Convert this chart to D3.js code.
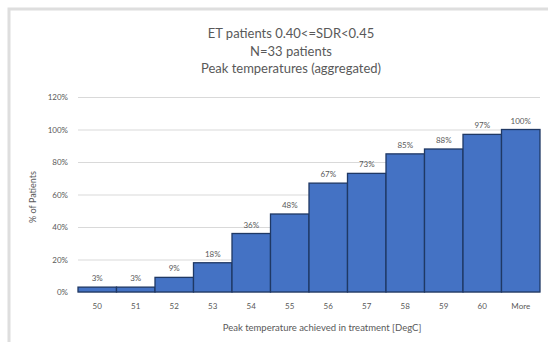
<!DOCTYPE html>
<html>
<head>
<meta charset="utf-8">
<script src="https://cdn.jsdelivr.net/npm/d3@7"></script>
<style>
  body { margin: 0; background: #fff; overflow: hidden; }
  svg { display: block; }
  text { font-family: Lato, "Open Sans", sans-serif; fill: #595959; }
</style>
</head>
<body>
<div class="graph-section"></div>
<script>
// data
var categories = ["50", "51", "52", "53", "54", "55", "56", "57", "58", "59", "60", "More"];
var percents = [3, 3, 9, 18, 36, 48, 67, 73, 85, 88, 97, 100];
var yTicks = [0, 20, 40, 60, 80, 100, 120];
var titleLines = ["ET patients 0.40<=SDR<0.45", "N=33 patients", "Peak temperatures (aggregated)"];

var screen = {width: 548, height: 342};
var margins = {top: 97, bottom: 50, left: 78, right: 8};

var graphWidth = screen.width - margins.left - margins.right;
var graphHeight = screen.height - margins.top - margins.bottom;

var svg = d3.select(".graph-section")
            .append("svg")
            .attr("width", screen.width)
            .attr("height", screen.height);

// outer chart frame (right and bottom run off the picture)
svg.append("rect")
   .attr("x", 9)
   .attr("y", 9)
   .attr("width", screen.width + 10)
   .attr("height", screen.height + 10)
   .attr("fill", "#fff")
   .attr("stroke", "#dedede")
   .attr("stroke-width", 3);

var xScale = d3.scaleBand()
              .domain(categories)
              .range([0, graphWidth])
              .padding(0);

var yScale = d3.scaleLinear()
              .domain([0, 120])
              .range([graphHeight, 0]);

var plotLand = svg.append("g")
                  .attr("transform", "translate(" + margins.left + "," + margins.top + ")");

// gridlines + y labels
var yAxis = d3.axisLeft(yScale)
              .tickValues(yTicks)
              .tickSize(-graphWidth)
              .tickPadding(10)
              .tickFormat(function(d){ return d + "%"; });

var yG = plotLand.append("g").call(yAxis);
yG.select(".domain").remove();
yG.selectAll("line").attr("stroke", "#d9d9d9");
yG.selectAll("text").attr("font-size", 8).style("fill", "#595959");

// bars
plotLand.selectAll(".bar")
        .data(percents)
        .enter()
        .append("rect")
        .classed("bar", true)
        .attr("x", function(d, i){ return xScale(categories[i]); })
        .attr("y", function(d){ return yScale(d); })
        .attr("width", xScale.bandwidth())
        .attr("height", function(d){ return graphHeight - yScale(d); })
        .attr("fill", "#4472c4")
        .attr("stroke", "#1f3864")
        .attr("stroke-width", 1.3);

// value labels
plotLand.selectAll(".val")
        .data(percents)
        .enter()
        .append("text")
        .classed("val", true)
        .attr("x", function(d, i){ return xScale(categories[i]) + xScale.bandwidth() / 2; })
        .attr("y", function(d){ return yScale(d) - 6; })
        .attr("text-anchor", "middle")
        .attr("font-size", 8)
        .text(function(d){ return d + "%"; });

// x axis labels
var xAxis = d3.axisBottom(xScale).tickSize(0).tickPadding(11);
var xG = plotLand.append("g")
                 .attr("transform", "translate(0," + graphHeight + ")")
                 .call(xAxis);
xG.select(".domain").remove();
xG.selectAll("text").attr("font-size", 8).style("fill", "#595959");

// axis titles
svg.append("text")
   .attr("x", 322)
   .attr("y", 331)
   .attr("text-anchor", "middle")
   .attr("font-size", 9.5)
   .text("Peak temperature achieved in treatment [DegC]");

svg.append("text")
   .attr("transform", "translate(36," + 197 + ") rotate(-90)")
   .attr("text-anchor", "middle")
   .attr("font-size", 9)
   .text("% of Patients");

// title
svg.append("g")
   .selectAll("text")
   .data(titleLines)
   .enter()
   .append("text")
   .attr("x", 291)
   .attr("y", function(d, i){ return 38 + i * 17.5; })
   .attr("text-anchor", "middle")
   .attr("font-size", 13)
   .text(function(d){ return d; });
</script>
</body>
</html>
